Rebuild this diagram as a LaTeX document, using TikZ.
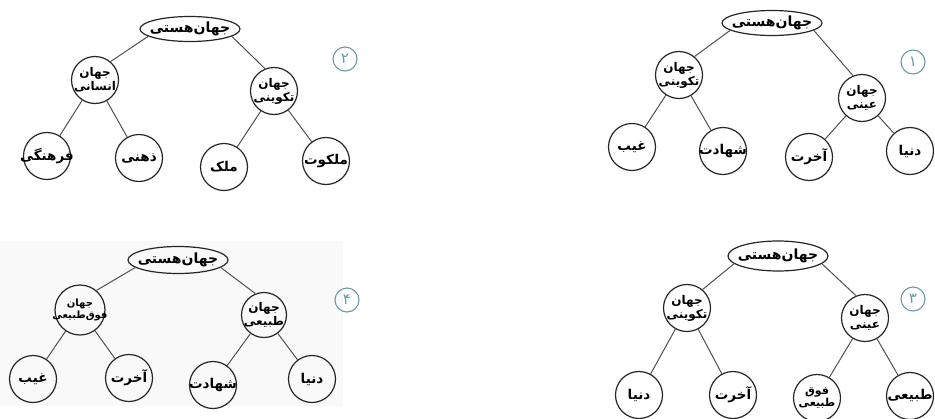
\documentclass[tikz,border=0pt]{standalone}
\usepackage{fontspec}
\usetikzlibrary{shapes.geometric}
\TeXXeTstate=1
\newfontfamily\arabicfont[Script=Arabic]{DejaVu Sans}
\newcommand{\fa}[1]{\beginR #1\endR}
\definecolor{numteal}{HTML}{6A9AA8}
\definecolor{linegray}{HTML}{505050}
\tikzset{
  rootnode/.style={ellipse, draw=black!85, line width=1.2pt, minimum width=100pt, minimum height=25pt,
    inner sep=-8pt, font=\arabicfont\bfseries\fontsize{14}{15}\selectfont},
  subnode/.style={circle, draw=black!85, line width=1.2pt, minimum size=47pt, inner sep=-6pt,
    align=center, font=\arabicfont\bfseries\fontsize{12}{14}\selectfont},
  leafnode/.style={circle, draw=black!85, line width=1.2pt, minimum size=47pt, inner sep=-8pt,
    font=\arabicfont\bfseries\fontsize{13.5}{14}\selectfont},
  numnode/.style={circle, draw=numteal, text=numteal, line width=1.1pt, minimum size=24pt,
    inner sep=0pt, font=\arabicfont\fontsize{15}{15}\selectfont},
  branch/.style={draw=linegray, line width=1pt}
}
\begin{document}
\begin{tikzpicture}[x=1pt, y=-1pt]
  \useasboundingbox (0,0) rectangle (935,418);
  % fondo claro del cuarto arbol
  \fill[black!2.5] (0,241) rectangle (343,406);

  % Arbol 1 (arriba derecha)
  \node[rootnode] (t1root) at (772,23) {\fa{جهان‌هستی}};
  \node[subnode] (t1a) at (679,75) {\fa{جهان}\\\fa{تکوینی}};
  \node[subnode] (t1b) at (862,98) {\fa{جهان}\\\fa{عینی}};
  \node[leafnode] (t1a1) at (632,147) {\fa{غیب}};
  \node[leafnode] (t1a2) at (723,151) {\fa{شهادت}};
  \node[leafnode] (t1b1) at (809,157) {\fa{آخرت}};
  \node[leafnode] (t1b2) at (910,151) {\fa{دنیا}};
  \node[numnode] (t1num) at (913,62) {۱};
  \draw[branch] (t1root.190) -- (t1a.50);
  \draw[branch] (t1root.350) -- (t1b.112);
  \draw[branch] (t1a) -- (t1a1);
  \draw[branch] (t1a) -- (t1a2);
  \draw[branch] (t1b) -- (t1b1);
  \draw[branch] (t1b) -- (t1b2);

  % Arbol 2 (arriba izquierda)
  \node[rootnode] (t2root) at (190,29) {\fa{جهان‌هستی}};
  \node[subnode] (t2a) at (95,80) {\fa{جهان}\\\fa{انسانی}};
  \node[subnode] (t2b) at (274,91) {\fa{جهان}\\\fa{تکوینی}};
  \node[leafnode] (t2a1) at (47,156) {\fa{فرهنگی}};
  \node[leafnode] (t2a2) at (139,158) {\fa{ذهنی}};
  \node[leafnode] (t2b1) at (224,167) {\fa{ملک}};
  \node[leafnode] (t2b2) at (326,161) {\fa{ملکوت}};
  \node[numnode] (t2num) at (345,59) {۲};
  \draw[branch] (t2root.190) -- (t2a.50);
  \draw[branch] (t2root.350) -- (t2b.112);
  \draw[branch] (t2a) -- (t2a1);
  \draw[branch] (t2a) -- (t2a2);
  \draw[branch] (t2b) -- (t2b1);
  \draw[branch] (t2b) -- (t2b2);

  % Arbol 3 (abajo derecha)
  \node[rootnode, minimum height=30pt] (t3root) at (778,256) {\fa{جهان‌هستی}};
  \node[subnode] (t3a) at (687,308) {\fa{جهان}\\\fa{تکوینی}};
  \node[subnode] (t3b) at (865,318) {\fa{جهان}\\\fa{عینی}};
  \node[leafnode] (t3a1) at (639,395) {\fa{دنیا}};
  \node[leafnode] (t3a2) at (733,395) {\fa{آخرت}};
  \node[subnode, font=\arabicfont\bfseries\fontsize{11}{12}\selectfont] (t3b1) at (817,398) {\fa{فوق}\\\fa{طبیعی}};
  \node[leafnode] (t3b2) at (910,396) {\fa{طبیعی}};
  \node[numnode] (t3num) at (913,299) {۳};
  \draw[branch] (t3root.190) -- (t3a.50);
  \draw[branch] (t3root.350) -- (t3b.112);
  \draw[branch] (t3a) -- (t3a1);
  \draw[branch] (t3a) -- (t3a2);
  \draw[branch] (t3b) -- (t3b1);
  \draw[branch] (t3b) -- (t3b2);

  % Arbol 4 (abajo izquierda)
  \node[rootnode, minimum height=27pt] (t4root) at (178,260) {\fa{جهان‌هستی}};
  \node[subnode, minimum size=50pt, font=\arabicfont\bfseries\fontsize{10}{11.5}\selectfont] (t4a) at (80,310) {\fa{جهان}\\\fa{فوق‌طبیعی}};
  \node[subnode, minimum size=45pt] (t4b) at (264,315) {\fa{جهان}\\\fa{طبیعی}};
  \node[leafnode] (t4a1) at (33,379) {\fa{غیب}};
  \node[leafnode] (t4a2) at (129,378) {\fa{آخرت}};
  \node[leafnode] (t4b1) at (213,385) {\fa{شهادت}};
  \node[leafnode] (t4b2) at (312,379) {\fa{دنیا}};
  \node[numnode] (t4num) at (347,300) {۴};
  \draw[branch] (t4root.190) -- (t4a.50);
  \draw[branch] (t4root.350) -- (t4b.112);
  \draw[branch] (t4a) -- (t4a1);
  \draw[branch] (t4a) -- (t4a2);
  \draw[branch] (t4b) -- (t4b1);
  \draw[branch] (t4b) -- (t4b2);
\end{tikzpicture}
\end{document}
